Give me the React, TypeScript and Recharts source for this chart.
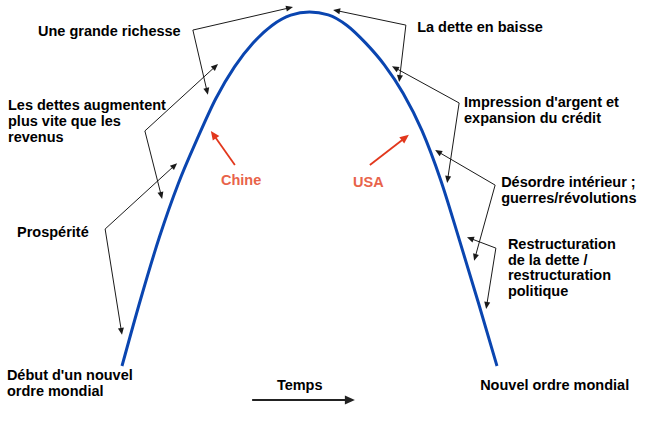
import React from 'react';
import { LineChart, Line, XAxis, YAxis, ReferenceLine, ReferenceDot } from 'recharts';

// Debt cycle curve: time (0..100) vs level (0..100)
const cycleTime = [0, 5, 10, 15, 20, 25, 30, 35, 40, 45, 50, 55, 60, 65, 70, 75, 80, 85, 90, 95, 100];
const cycleLevel = [0, 19, 36.5, 51.5, 64, 75.5, 84.5, 91.3, 96.2, 99.1, 100, 99.2, 96.2, 91.2, 85, 77, 66.5, 52.5, 35.5, 18, 0];

// Annotation texts (French)
const labelTexts = [
  ['Une grande richesse'],
  ['Les dettes augmentent', 'plus vite que les', 'revenus'],
  ['Prospérité'],
  ["Début d'un nouvel", 'ordre mondial'],
  ['Temps'],
  ['Nouvel ordre mondial'],
  ['Chine'],
  ['USA'],
  ['La dette en baisse'],
  ["Impression d'argent et", 'expansion du crédit'],
  ['Désordre intérieur ;', 'guerres/révolutions'],
  ['Restructuration', 'de la dette /', 'restructuration', 'politique'],
];
// anchor of each label in chart units (time, level)
const labelTime = [-22.4, -30.4, -28, -30.7, 41.3, 95.5, 26.4, 61.6, 78.7, 91.2, 101.1, 102.9];
const labelLevel = [93.2, 72.3, 36.4, -4.0, -6.8, -6.8, 51.1, 50.6, 94.4, 73.2, 50.6, 33.1];
const labelRed = [false, false, false, false, false, false, true, true, false, false, false, false];

// Arrows: from (time, level) to (time, level)
const arrowFromTime = [18.9, 18.9, 6.1, 6.1, -4.5, -4.5, 30.1, 66.1, 75.7, 75.7, 89.9, 89.9, 99.5, 99.5, 99.7, 99.7, 34.7];
const arrowFromLevel = [94.9, 94.9, 66.4, 66.4, 38.7, 38.7, 56.8, 56.8, 96.3, 96.3, 74.3, 74.3, 51.1, 51.1, 33.3, 33.3, -9.6];
const arrowToTime = [45.6, 22.9, 25.6, 10.7, 14.7, 0, 23.7, 76.5, 56.3, 73.9, 72, 86.7, 83.5, 93.9, 92, 97.1, 62.1];
const arrowToLevel = [101.4, 76.6, 85.3, 47.2, 57.3, 8.8, 66.4, 65.3, 100.6, 80.2, 84.7, 51.7, 61.0, 29.7, 36.4, 16.1, -9.6];
const arrowKind = ['n', 'n', 'n', 'n', 'n', 'n', 'r', 'r', 'n', 'n', 'n', 'n', 'n', 'n', 'n', 'n', 't'];

const cycleData = cycleTime.map((t, i) => ({ t, level: cycleLevel[i] }));

const FONT = "Arial, 'Liberation Sans', sans-serif";

const arrowStyle: Record<string, { color: string; width: number; len: number; half: number }> = {
  n: { color: '#1a1a1a', width: 1, len: 7, half: 3 },
  r: { color: '#e2371c', width: 1.8, len: 9, half: 4 },
  t: { color: '#222222', width: 2, len: 10, half: 4.5 },
};

const makeArrowShape = (kind: string) => (props: any) => {
  const { x1, y1, x2, y2 } = props;
  const s = arrowStyle[kind];
  const dx = x2 - x1;
  const dy = y2 - y1;
  const d = Math.sqrt(dx * dx + dy * dy) || 1;
  const ux = dx / d;
  const uy = dy / d;
  const bx = x2 - ux * s.len;
  const by = y2 - uy * s.len;
  const pts = `${x2},${y2} ${bx - uy * s.half},${by + ux * s.half} ${bx + uy * s.half},${by - ux * s.half}`;
  return (
    <g>
      <line x1={x1} y1={y1} x2={bx + ux * 1} y2={by + uy * 1} stroke={s.color} strokeWidth={s.width} />
      <polygon points={pts} fill={s.color} />
    </g>
  );
};

const makeLabelShape = (lines: string[], red: boolean) => (props: any) => {
  const { cx, cy } = props;
  return (
    <text
      x={cx}
      y={cy}
      fill={red ? '#e8634a' : '#000000'}
      fontFamily={FONT}
      fontWeight="bold"
      fontSize={14.5}
    >
      {lines.map((ln, i) => (
        <tspan key={i} x={cx} y={cy + i * 15.8}>
          {ln}
        </tspan>
      ))}
    </text>
  );
};

export default function App() {
  return (
    <div style={{ position: 'absolute', left: 0, top: 0, width: 649, height: 425, background: '#ffffff' }}>
      <LineChart
        width={649}
        height={425}
        data={cycleData}
        margin={{ top: 12, right: 152, bottom: 59, left: 122 }}
      >
        <XAxis dataKey="t" type="number" domain={[0, 100]} hide />
        <YAxis type="number" domain={[0, 100]} hide />
        <Line
          type="monotone"
          dataKey="level"
          stroke="#0a45b0"
          strokeWidth={3}
          dot={false}
          activeDot={false}
          isAnimationActive={false}
        />
        {arrowFromTime.map((ft, i) => (
          <ReferenceLine
            key={`a${i}`}
            segment={[
              { x: ft, y: arrowFromLevel[i] },
              { x: arrowToTime[i], y: arrowToLevel[i] },
            ]}
            ifOverflow="visible"
            shape={makeArrowShape(arrowKind[i])}
          />
        ))}
        {labelTexts.map((lines, i) => (
          <ReferenceDot
            key={`l${i}`}
            x={labelTime[i]}
            y={labelLevel[i]}
            r={0}
            ifOverflow="visible"
            shape={makeLabelShape(lines, labelRed[i])}
          />
        ))}
      </LineChart>
    </div>
  );
}
